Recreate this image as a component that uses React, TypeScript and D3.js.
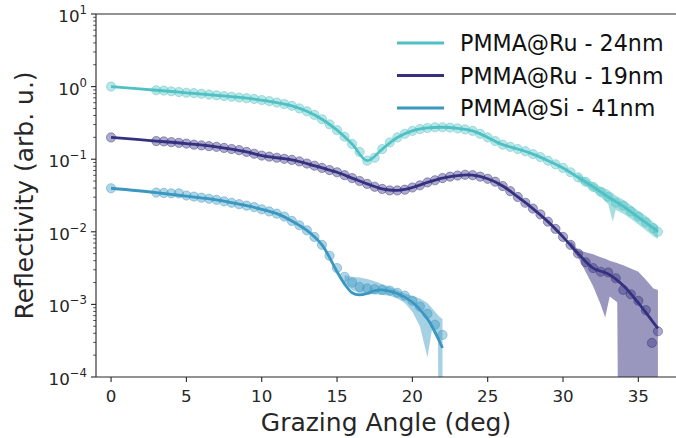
import React, { useEffect, useRef } from 'react';
import * as d3 from 'd3';

// measured reflectivity, stored as log10(R)
const ru24Angle = [0, 3, 3.5, 4, 4.5, 5, 5.5, 6, 6.5, 7, 7.5, 8, 8.5, 9, 9.5, 10, 10.5, 11, 11.5, 12, 12.5, 13, 13.5, 14, 14.5, 15, 15.5, 16, 16.5, 17, 17.5, 18, 18.5, 19, 19.5, 20, 20.5, 21, 21.5, 22, 22.5, 23, 23.5, 24, 24.5, 25, 25.5, 26, 26.5, 27, 27.5, 28, 28.5, 29, 29.5, 30, 30.5, 31, 31.5, 32, 32.5, 33, 33.5, 34, 34.5, 35, 35.5, 36, 36.3];
const ru24LogR = [0, -0.05, -0.055, -0.065, -0.075, -0.085, -0.09, -0.1, -0.11, -0.12, -0.13, -0.14, -0.15, -0.16, -0.17, -0.185, -0.2, -0.22, -0.24, -0.265, -0.3, -0.34, -0.39, -0.45, -0.52, -0.6, -0.69, -0.79, -0.9, -1.02, -0.98, -0.86, -0.77, -0.7, -0.65, -0.61, -0.585, -0.57, -0.56, -0.56, -0.565, -0.575, -0.59, -0.61, -0.65, -0.7, -0.75, -0.8, -0.83, -0.86, -0.89, -0.93, -0.97, -1.02, -1.07, -1.12, -1.18, -1.25, -1.31, -1.38, -1.45, -1.52, -1.6, -1.64, -1.72, -1.79, -1.87, -1.95, -2.0];

const ru19Angle = [0, 3, 3.5, 4, 4.5, 5, 5.5, 6, 6.5, 7, 7.5, 8, 8.5, 9, 9.5, 10, 10.5, 11, 11.5, 12, 12.5, 13, 13.5, 14, 14.5, 15, 15.5, 16, 16.5, 17, 17.5, 18, 18.5, 19, 19.5, 20, 20.5, 21, 21.5, 22, 22.5, 23, 23.5, 24, 24.5, 25, 25.5, 26, 26.5, 27, 27.5, 28, 28.5, 29, 29.5, 30, 30.5, 31, 31.5, 32, 32.5, 33, 33.5, 34, 34.5, 35, 35.5, 35.9, 36.3];
const ru19LogR = [-0.7, -0.75, -0.755, -0.765, -0.775, -0.785, -0.8, -0.81, -0.82, -0.83, -0.845, -0.86, -0.875, -0.9, -0.925, -0.95, -0.965, -0.98, -0.995, -1.01, -1.03, -1.06, -1.09, -1.12, -1.15, -1.18, -1.22, -1.26, -1.3, -1.34, -1.38, -1.41, -1.43, -1.43, -1.42, -1.39, -1.36, -1.32, -1.29, -1.26, -1.24, -1.225, -1.215, -1.22, -1.24, -1.27, -1.31, -1.37, -1.44, -1.52, -1.6, -1.68, -1.76, -1.86, -1.96, -2.07, -2.18, -2.3, -2.42, -2.5, -2.55, -2.56, -2.64, -2.8, -2.86, -2.95, -3.08, -3.53, -3.37];

const siAngle = [0, 3, 3.5, 4, 4.5, 5, 5.5, 6, 6.5, 7, 7.5, 8, 8.5, 9, 9.5, 10, 10.5, 11, 11.5, 12, 12.5, 13, 13.5, 14, 14.5, 15, 15.5, 16, 16.5, 17, 17.5, 18, 18.5, 19, 19.5, 20, 20.5, 21, 21.5, 22];
const siLogR = [-1.4, -1.46, -1.465, -1.47, -1.47, -1.5, -1.515, -1.53, -1.545, -1.56, -1.58, -1.6, -1.62, -1.64, -1.66, -1.69, -1.72, -1.75, -1.79, -1.85, -1.91, -1.98, -2.07, -2.18, -2.33, -2.5, -2.62, -2.7, -2.76, -2.78, -2.79, -2.8, -2.81, -2.84, -2.88, -2.95, -3.03, -3.13, -3.28, -3.42];

// fitted model curves
const ru24FitAngle = [0, 3, 5, 7, 9, 11, 12, 13, 14, 15, 16, 17, 18, 19, 20, 21, 22, 23, 24, 25, 26, 27, 28, 29, 30, 31, 32, 33, 34, 35, 36, 36.3];
const ru24FitLogR = [0, -0.05, -0.085, -0.12, -0.16, -0.22, -0.265, -0.34, -0.45, -0.6, -0.79, -1.02, -0.86, -0.7, -0.61, -0.57, -0.56, -0.575, -0.61, -0.7, -0.8, -0.86, -0.93, -1.02, -1.12, -1.25, -1.38, -1.52, -1.65, -1.8, -1.95, -2.0];

const ru19FitAngle = [0, 3, 5, 7, 9, 10, 11, 12, 13, 14, 15, 16, 17, 18, 19, 20, 21, 22, 23, 24, 25, 26, 27, 28, 29, 30, 31, 32, 33, 34, 35, 36, 36.3];
const ru19FitLogR = [-0.7, -0.75, -0.785, -0.83, -0.9, -0.95, -0.98, -1.01, -1.06, -1.12, -1.18, -1.26, -1.34, -1.41, -1.43, -1.39, -1.32, -1.26, -1.225, -1.22, -1.27, -1.37, -1.52, -1.68, -1.86, -2.07, -2.3, -2.5, -2.58, -2.74, -2.98, -3.25, -3.33];

const siFitAngle = [0, 3, 5, 7, 9, 10, 11, 12, 13, 14, 15, 15.5, 16, 16.5, 17, 17.5, 18, 19, 20, 21, 21.5, 22];
const siFitLogR = [-1.4, -1.46, -1.51, -1.56, -1.64, -1.69, -1.75, -1.85, -1.98, -2.18, -2.55, -2.72, -2.84, -2.87, -2.85, -2.81, -2.8, -2.85, -2.97, -3.2, -3.38, -3.6];

// uncertainty bands (log10), only where wider than the markers
const ru24BandAngle = [31, 32, 32.5, 33, 33.3, 33.5, 34, 34.5, 35, 35.5, 36, 36.3];
const ru24BandHi = [-1.2, -1.32, -1.38, -1.42, -1.47, -1.5, -1.56, -1.63, -1.71, -1.78, -1.87, -1.92];
const ru24BandLo = [-1.3, -1.44, -1.52, -1.62, -1.86, -1.7, -1.75, -1.82, -1.9, -1.98, -2.06, -2.1];

const ru19BandAngle = [30.5, 31, 31.5, 32, 32.5, 32.8, 33.1, 33.6, 33.7, 34, 35, 35.5, 36, 36.3];
const ru19BandHi = [-2.12, -2.25, -2.28, -2.31, -2.35, -2.37, -2.4, -2.43, -2.44, -2.46, -2.55, -2.66, -2.78, -2.8];
const ru19BandLo = [-2.22, -2.35, -2.55, -2.75, -3.0, -3.18, -2.89, -2.97, -6, -6, -6, -6, -6, -6];

const siBandAngle = [15.5, 16, 16.5, 17, 17.5, 18, 18.5, 19, 19.5, 20, 20.5, 21, 21.3, 21.7, 21.8, 22];
const siBandHi = [-2.6, -2.62, -2.63, -2.65, -2.68, -2.72, -2.76, -2.8, -2.85, -2.88, -2.92, -2.98, -3.05, -3.15, -3.17, -3.2];
const siBandLo = [-2.72, -2.8, -2.85, -2.86, -2.86, -2.87, -2.88, -2.92, -2.98, -3.1, -3.3, -3.73, -3.35, -3.5, -6, -6];

const seriesNames = ['PMMA@Ru - 24nm', 'PMMA@Ru - 19nm', 'PMMA@Si - 41nm'];
const seriesColors = ['#4fc0c4', '#35307f', '#3a97c0'];

const xTicks = [0, 5, 10, 15, 20, 25, 30, 35];
const yTickExp = [-4, -3, -2, -1, 0, 1];

const W = 676;
const H = 438;

export default function App() {
  const ref = useRef<SVGSVGElement>(null);

  useEffect(() => {
    const svg = d3.select(ref.current);
    svg.selectAll('*').remove();

    const left = 96, right = 676, top = 14, bottom = 377;
    const x = d3.scaleLinear().domain([-1, 37.5]).range([left, right]);
    const y = d3.scaleLog().domain([1e-4, 10]).range([bottom, top]);
    const ink = '#262626';

    const series = [
      { angle: ru24Angle, logR: ru24LogR, fa: ru24FitAngle, fl: ru24FitLogR, ba: ru24BandAngle, bh: ru24BandHi, bl: ru24BandLo, bop: 0.5 },
      { angle: ru19Angle, logR: ru19LogR, fa: ru19FitAngle, fl: ru19FitLogR, ba: ru19BandAngle, bh: ru19BandHi, bl: ru19BandLo, bop: 0.5 },
      { angle: siAngle, logR: siLogR, fa: siFitAngle, fl: siFitLogR, ba: siBandAngle, bh: siBandHi, bl: siBandLo, bop: 0.45 },
    ].map((s, i) => ({ ...s, name: seriesNames[i], color: seriesColors[i] }));

    svg.append('defs').append('clipPath').attr('id', 'plot-clip')
      .append('rect').attr('x', left).attr('y', top).attr('width', right - left).attr('height', bottom - top);

    const plot = svg.append('g').attr('clip-path', 'url(#plot-clip)');

    // bands
    series.forEach(s => {
      const area = d3.area<number>()
        .x((_, i) => x(s.ba[i]))
        .y0((_, i) => y(Math.pow(10, s.bl[i])))
        .y1((_, i) => y(Math.pow(10, s.bh[i])));
      plot.append('path').datum(s.ba).attr('d', area).attr('fill', s.color).attr('fill-opacity', s.bop);
    });

    // points
    series.forEach(s => {
      plot.append('g').selectAll('circle')
        .data(s.angle)
        .enter()
        .append('circle')
        .attr('cx', d => x(d))
        .attr('cy', (_, i) => y(Math.pow(10, s.logR[i])))
        .attr('r', 4.6)
        .attr('fill', s.color)
        .attr('fill-opacity', 0.4)
        .attr('stroke', s.color)
        .attr('stroke-opacity', 0.45)
        .attr('stroke-width', 1);
    });

    // fits
    series.forEach(s => {
      const line = d3.line<number>()
        .x(d => x(d))
        .y((_, i) => y(Math.pow(10, s.fl[i])))
        .curve(d3.curveCatmullRom.alpha(0.5));
      plot.append('path').datum(s.fa).attr('d', line)
        .attr('fill', 'none').attr('stroke', s.color).attr('stroke-width', 2.8);
    });

    // spines
    const ax = svg.append('g').attr('stroke', ink).attr('stroke-width', 1.1);
    ax.append('line').attr('x1', left).attr('x2', left).attr('y1', top).attr('y2', bottom);
    ax.append('line').attr('x1', left).attr('x2', right).attr('y1', bottom).attr('y2', bottom);
    ax.append('line').attr('x1', left).attr('x2', right).attr('y1', top).attr('y2', top);

    // x ticks
    xTicks.forEach(t => {
      ax.append('line').attr('x1', x(t)).attr('x2', x(t)).attr('y1', bottom).attr('y2', bottom + 5);
      svg.append('text').attr('x', x(t)).attr('y', bottom + 25)
        .attr('text-anchor', 'middle').attr('font-size', 16.7).attr('fill', ink).text(t);
    });

    // y ticks
    yTickExp.forEach(e => {
      const yy = y(Math.pow(10, e));
      ax.append('line').attr('x1', left - 5).attr('x2', left).attr('y1', yy).attr('y2', yy);
      const txt = svg.append('text').attr('x', left - 9).attr('y', yy + 8)
        .attr('text-anchor', 'end').attr('font-size', 16.7).attr('fill', ink);
      txt.append('tspan').text('10');
      txt.append('tspan').attr('font-size', 11.7).attr('dy', -8).text(e < 0 ? '\u2212' + Math.abs(e) : String(e));
      if (e < 1) {
        for (let m = 2; m <= 9; m++) {
          const ym = y(m * Math.pow(10, e));
          ax.append('line').attr('x1', left - 2.8).attr('x2', left).attr('y1', ym).attr('y2', ym).attr('stroke-width', 0.8);
        }
      }
    });

    // axis titles
    svg.append('text').attr('x', (left + right) / 2).attr('y', 431)
      .attr('text-anchor', 'middle').attr('font-size', 25).attr('fill', ink).text('Grazing Angle (deg)');
    svg.append('text').attr('transform', `translate(33,${(top + bottom) / 2}) rotate(-90)`)
      .attr('text-anchor', 'middle').attr('font-size', 25).attr('fill', ink).text('Reflectivity (arb. u.)');

    // legend
    const leg = svg.append('g');
    series.forEach((s, i) => {
      const ly = 43 + i * 32.5;
      leg.append('line').attr('x1', 397).attr('x2', 444).attr('y1', ly).attr('y2', ly)
        .attr('stroke', s.color).attr('stroke-width', 2.8);
      leg.append('text').attr('x', 460).attr('y', ly + 8).attr('font-size', 22.2).attr('fill', '#111').text(s.name);
    });
  }, []);

  return (
    <svg ref={ref} width={W} height={H}
      style={{ position: 'absolute', left: 0, top: 0, fontFamily: 'DejaVu Sans', background: '#fff' }} />
  );
}
